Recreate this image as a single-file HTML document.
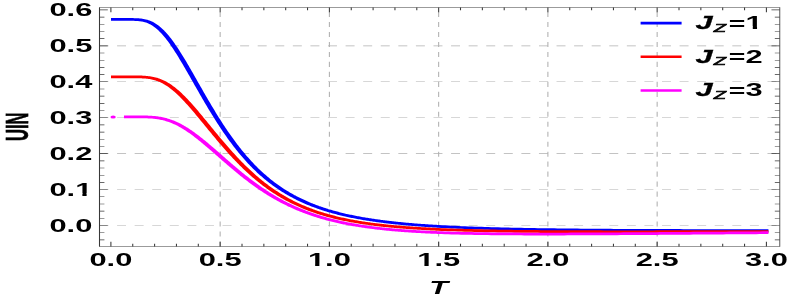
<!DOCTYPE html>
<html><head><meta charset="utf-8"><title>plot</title>
<style>html,body{margin:0;padding:0;background:#fff;}body{width:793px;height:300px;overflow:hidden;position:relative;font-family:"Liberation Sans",sans-serif;}</style></head>
<body>
<svg width="793" height="300" viewBox="0 0 793 300" style="position:absolute;left:0;top:0;will-change:transform">
<rect x="0" y="0" width="793" height="300" fill="#fff"/>
<g transform="scale(1.76222,1)" stroke="#b0b0b0" stroke-width="0.6" fill="none" stroke-dasharray="5.1 4.875">
<line x1="56.46" x2="442.34" y1="225.5" y2="225.5"/>
<line x1="56.46" x2="442.34" y1="189.57" y2="189.57"/>
<line x1="56.46" x2="442.34" y1="153.64" y2="153.64"/>
<line x1="56.46" x2="442.34" y1="117.71" y2="117.71"/>
<line x1="56.46" x2="442.34" y1="81.78" y2="81.78"/>
<line x1="56.46" x2="442.34" y1="45.85" y2="45.85"/>
<line x1="124.93" x2="124.93" y1="246.5" y2="7.5"/>
<line x1="186.92" x2="186.92" y1="246.5" y2="7.5"/>
<line x1="248.92" x2="248.92" y1="246.5" y2="7.5"/>
<line x1="310.91" x2="310.91" y1="246.5" y2="7.5"/>
<line x1="372.91" x2="372.91" y1="246.5" y2="7.5"/>
</g>
<g transform="scale(1.76222,1)" fill="none" stroke-width="2.75" stroke-linecap="square" stroke-linejoin="round">
<path d="M64.35 19.45 L64.97 19.45 L65.58 19.45 L66.20 19.45 L66.82 19.45 L67.43 19.45 L68.05 19.45 L68.67 19.45 L69.28 19.45 L69.90 19.45 L70.52 19.45 L71.13 19.45 L71.75 19.45 L72.37 19.45 L72.99 19.45 L73.60 19.45 L74.22 19.46 L74.84 19.46 L75.45 19.48 L76.07 19.50 L76.69 19.53 L77.30 19.57 L77.92 19.62 L78.54 19.69 L79.15 19.79 L79.77 19.90 L80.39 20.05 L81.00 20.22 L81.62 20.43 L82.24 20.68 L82.85 20.97 L83.47 21.30 L84.09 21.68 L84.70 22.11 L85.32 22.59 L85.94 23.12 L86.56 23.71 L87.17 24.35 L87.79 25.05 L88.41 25.80 L89.02 26.61 L89.64 27.48 L90.26 28.41 L90.87 29.39 L91.49 30.43 L92.11 31.52 L92.72 32.67 L93.34 33.86 L93.96 35.11 L94.57 36.41 L95.19 37.75 L95.81 39.15 L96.42 40.58 L97.04 42.06 L97.66 43.57 L98.27 45.13 L98.89 46.72 L99.51 48.34 L100.13 50.00 L100.74 51.69 L101.36 53.40 L101.98 55.14 L102.59 56.90 L103.21 58.69 L103.83 60.49 L104.44 62.31 L105.06 64.15 L105.68 66.00 L106.29 67.87 L106.91 69.75 L107.53 71.63 L108.14 73.53 L108.76 75.43 L109.38 77.33 L109.99 79.24 L110.61 81.15 L111.23 83.06 L111.84 84.97 L112.46 86.88 L113.08 88.78 L113.69 90.68 L114.31 92.58 L114.93 94.47 L115.55 96.35 L116.16 98.23 L116.78 100.09 L117.40 101.95 L118.01 103.80 L118.63 105.63 L119.25 107.45 L119.86 109.26 L120.48 111.06 L121.10 112.84 L121.71 114.61 L122.33 116.36 L122.95 118.10 L123.56 119.82 L124.18 121.53 L124.80 123.22 L125.41 124.89 L126.03 126.55 L126.65 128.18 L127.26 129.80 L127.88 131.40 L128.50 132.99 L129.12 134.55 L129.73 136.10 L130.35 137.63 L130.97 139.13 L131.58 140.62 L132.20 142.09 L132.82 143.54 L133.43 144.97 L134.05 146.39 L134.67 147.78 L135.28 149.15 L135.90 150.51 L136.52 151.84 L137.13 153.16 L137.75 154.45 L138.37 155.73 L138.98 156.99 L139.60 158.23 L140.22 159.45 L140.83 160.65 L141.45 161.84 L142.07 163.00 L142.69 164.15 L143.30 165.28 L143.92 166.39 L144.54 167.48 L145.15 168.56 L145.77 169.62 L146.39 170.66 L147.00 171.68 L147.62 172.69 L148.24 173.68 L148.85 174.65 L149.47 175.61 L150.09 176.55 L150.70 177.47 L151.32 178.38 L151.94 179.28 L152.55 180.16 L153.17 181.02 L153.79 181.87 L154.40 182.70 L155.02 183.52 L155.64 184.33 L156.25 185.12 L156.87 185.90 L157.49 186.66 L158.11 187.41 L158.72 188.15 L159.34 188.87 L159.96 189.58 L160.57 190.28 L161.19 190.97 L161.81 191.64 L162.42 192.30 L163.04 192.95 L163.66 193.59 L164.27 194.22 L164.89 194.84 L165.51 195.44 L166.12 196.04 L166.74 196.62 L167.36 197.19 L167.97 197.75 L168.59 198.31 L169.21 198.85 L169.82 199.38 L170.44 199.91 L171.06 200.42 L171.68 200.93 L172.29 201.42 L172.91 201.91 L173.53 202.39 L174.14 202.86 L174.76 203.32 L175.38 203.77 L175.99 204.22 L176.61 204.65 L177.23 205.08 L177.84 205.50 L178.46 205.92 L179.08 206.32 L179.69 206.72 L180.31 207.12 L180.93 207.50 L181.54 207.88 L182.16 208.25 L182.78 208.62 L183.39 208.97 L184.01 209.33 L184.63 209.67 L185.25 210.01 L185.86 210.35 L186.48 210.67 L187.10 211.00 L187.71 211.31 L188.33 211.62 L188.95 211.93 L189.56 212.23 L190.18 212.52 L190.80 212.81 L191.41 213.10 L192.03 213.38 L192.65 213.65 L193.26 213.92 L193.88 214.19 L194.50 214.45 L195.11 214.70 L195.73 214.96 L196.35 215.20 L196.96 215.45 L197.58 215.69 L198.20 215.92 L198.82 216.15 L199.43 216.38 L200.05 216.60 L200.67 216.82 L201.28 217.04 L201.90 217.25 L202.52 217.46 L203.13 217.66 L203.75 217.86 L204.37 218.06 L204.98 218.26 L205.60 218.45 L206.22 218.63 L206.83 218.82 L207.45 219.00 L208.07 219.18 L208.68 219.36 L209.30 219.53 L209.92 219.70 L210.53 219.87 L211.15 220.03 L211.77 220.19 L212.38 220.35 L213.00 220.51 L213.62 220.66 L214.24 220.81 L214.85 220.96 L215.47 221.11 L216.09 221.25 L216.70 221.39 L217.32 221.53 L217.94 221.67 L218.55 221.81 L219.17 221.94 L219.79 222.07 L220.40 222.20 L221.02 222.32 L221.64 222.45 L222.25 222.57 L222.87 222.69 L223.49 222.81 L224.10 222.93 L224.72 223.04 L225.34 223.16 L225.95 223.27 L226.57 223.38 L227.19 223.48 L227.81 223.59 L228.42 223.69 L229.04 223.80 L229.66 223.90 L230.27 224.00 L230.89 224.10 L231.51 224.19 L232.12 224.29 L232.74 224.38 L233.36 224.47 L233.97 224.56 L234.59 224.65 L235.21 224.74 L235.82 224.83 L236.44 224.91 L237.06 224.99 L237.67 225.08 L238.29 225.16 L238.91 225.24 L239.52 225.32 L240.14 225.40 L240.76 225.47 L241.38 225.55 L241.99 225.62 L242.61 225.69 L243.23 225.77 L243.84 225.84 L244.46 225.91 L245.08 225.98 L245.69 226.04 L246.31 226.11 L246.93 226.18 L247.54 226.24 L248.16 226.30 L248.78 226.37 L250.65 226.55 L252.53 226.73 L254.41 226.90 L256.29 227.06 L258.17 227.21 L260.04 227.36 L261.92 227.50 L263.80 227.64 L265.68 227.77 L267.55 227.89 L269.43 228.01 L271.31 228.12 L273.19 228.23 L275.07 228.34 L276.94 228.44 L278.82 228.53 L280.70 228.62 L282.58 228.71 L284.45 228.79 L286.33 228.88 L288.21 228.95 L290.09 229.03 L291.97 229.10 L293.84 229.16 L295.72 229.23 L297.60 229.29 L299.48 229.35 L301.36 229.41 L303.23 229.46 L305.11 229.51 L306.99 229.56 L308.87 229.61 L310.74 229.66 L312.62 229.70 L314.50 229.74 L316.38 229.79 L318.26 229.82 L320.13 229.86 L322.01 229.90 L323.89 229.93 L325.77 229.96 L327.64 229.99 L329.52 230.02 L331.40 230.05 L333.28 230.08 L335.16 230.11 L337.03 230.13 L338.91 230.16 L340.79 230.18 L342.67 230.20 L344.54 230.22 L346.42 230.24 L348.30 230.26 L350.18 230.28 L352.06 230.29 L353.93 230.31 L355.81 230.33 L357.69 230.34 L359.57 230.36 L361.44 230.37 L363.32 230.38 L365.20 230.39 L367.08 230.41 L368.96 230.42 L370.83 230.43 L372.71 230.44 L374.59 230.45 L376.47 230.46 L378.34 230.46 L380.22 230.47 L382.10 230.48 L383.98 230.49 L385.86 230.49 L387.73 230.50 L389.61 230.50 L391.49 230.51 L393.37 230.51 L395.24 230.52 L397.12 230.52 L399.00 230.53 L400.88 230.53 L402.76 230.53 L404.63 230.54 L406.51 230.54 L408.39 230.54 L410.27 230.54 L412.14 230.54 L414.02 230.55 L415.90 230.55 L417.78 230.55 L419.66 230.55 L421.53 230.55 L423.41 230.55 L425.29 230.55 L427.17 230.55 L429.05 230.55 L430.92 230.55 L432.80 230.55 L434.68 230.55" stroke="#0000ff"/>
<path d="M64.35 76.87 L64.97 76.87 L65.58 76.87 L66.20 76.87 L66.82 76.87 L67.43 76.87 L68.05 76.87 L68.67 76.87 L69.28 76.87 L69.90 76.87 L70.52 76.87 L71.13 76.87 L71.75 76.87 L72.37 76.87 L72.99 76.87 L73.60 76.87 L74.22 76.87 L74.84 76.87 L75.45 76.87 L76.07 76.87 L76.69 76.88 L77.30 76.89 L77.92 76.90 L78.54 76.91 L79.15 76.93 L79.77 76.96 L80.39 76.99 L81.00 77.04 L81.62 77.10 L82.24 77.17 L82.85 77.25 L83.47 77.36 L84.09 77.48 L84.70 77.62 L85.32 77.79 L85.94 77.97 L86.56 78.19 L87.17 78.43 L87.79 78.70 L88.41 79.00 L89.02 79.33 L89.64 79.70 L90.26 80.09 L90.87 80.52 L91.49 80.99 L92.11 81.49 L92.72 82.02 L93.34 82.59 L93.96 83.19 L94.57 83.83 L95.19 84.51 L95.81 85.22 L96.42 85.96 L97.04 86.74 L97.66 87.55 L98.27 88.39 L98.89 89.26 L99.51 90.16 L100.13 91.10 L100.74 92.06 L101.36 93.05 L101.98 94.06 L102.59 95.10 L103.21 96.17 L103.83 97.26 L104.44 98.37 L105.06 99.50 L105.68 100.65 L106.29 101.82 L106.91 103.01 L107.53 104.21 L108.14 105.43 L108.76 106.66 L109.38 107.91 L109.99 109.17 L110.61 110.44 L111.23 111.72 L111.84 113.00 L112.46 114.30 L113.08 115.60 L113.69 116.91 L114.31 118.23 L114.93 119.54 L115.55 120.87 L116.16 122.19 L116.78 123.52 L117.40 124.84 L118.01 126.17 L118.63 127.50 L119.25 128.82 L119.86 130.15 L120.48 131.47 L121.10 132.79 L121.71 134.10 L122.33 135.41 L122.95 136.72 L123.56 138.02 L124.18 139.31 L124.80 140.60 L125.41 141.89 L126.03 143.16 L126.65 144.43 L127.26 145.69 L127.88 146.94 L128.50 148.18 L129.12 149.41 L129.73 150.64 L130.35 151.85 L130.97 153.06 L131.58 154.25 L132.20 155.44 L132.82 156.61 L133.43 157.77 L134.05 158.92 L134.67 160.06 L135.28 161.19 L135.90 162.31 L136.52 163.41 L137.13 164.51 L137.75 165.59 L138.37 166.66 L138.98 167.71 L139.60 168.76 L140.22 169.79 L140.83 170.81 L141.45 171.82 L142.07 172.81 L142.69 173.80 L143.30 174.77 L143.92 175.72 L144.54 176.67 L145.15 177.60 L145.77 178.52 L146.39 179.43 L147.00 180.32 L147.62 181.20 L148.24 182.07 L148.85 182.93 L149.47 183.77 L150.09 184.60 L150.70 185.42 L151.32 186.23 L151.94 187.03 L152.55 187.81 L153.17 188.58 L153.79 189.34 L154.40 190.09 L155.02 190.83 L155.64 191.55 L156.25 192.26 L156.87 192.97 L157.49 193.66 L158.11 194.34 L158.72 195.00 L159.34 195.66 L159.96 196.31 L160.57 196.94 L161.19 197.57 L161.81 198.19 L162.42 198.79 L163.04 199.38 L163.66 199.97 L164.27 200.54 L164.89 201.11 L165.51 201.66 L166.12 202.21 L166.74 202.75 L167.36 203.27 L167.97 203.79 L168.59 204.30 L169.21 204.80 L169.82 205.29 L170.44 205.77 L171.06 206.25 L171.68 206.71 L172.29 207.17 L172.91 207.62 L173.53 208.06 L174.14 208.50 L174.76 208.92 L175.38 209.34 L175.99 209.75 L176.61 210.15 L177.23 210.55 L177.84 210.94 L178.46 211.32 L179.08 211.70 L179.69 212.06 L180.31 212.43 L180.93 212.78 L181.54 213.13 L182.16 213.47 L182.78 213.81 L183.39 214.14 L184.01 214.46 L184.63 214.78 L185.25 215.09 L185.86 215.40 L186.48 215.70 L187.10 215.99 L187.71 216.28 L188.33 216.57 L188.95 216.85 L189.56 217.12 L190.18 217.39 L190.80 217.65 L191.41 217.91 L192.03 218.17 L192.65 218.42 L193.26 218.66 L193.88 218.91 L194.50 219.14 L195.11 219.37 L195.73 219.60 L196.35 219.83 L196.96 220.05 L197.58 220.26 L198.20 220.47 L198.82 220.68 L199.43 220.88 L200.05 221.08 L200.67 221.28 L201.28 221.47 L201.90 221.66 L202.52 221.85 L203.13 222.03 L203.75 222.21 L204.37 222.39 L204.98 222.56 L205.60 222.73 L206.22 222.90 L206.83 223.06 L207.45 223.22 L208.07 223.38 L208.68 223.53 L209.30 223.68 L209.92 223.83 L210.53 223.98 L211.15 224.12 L211.77 224.26 L212.38 224.40 L213.00 224.54 L213.62 224.67 L214.24 224.80 L214.85 224.93 L215.47 225.06 L216.09 225.18 L216.70 225.30 L217.32 225.42 L217.94 225.54 L218.55 225.66 L219.17 225.77 L219.79 225.88 L220.40 225.99 L221.02 226.10 L221.64 226.20 L222.25 226.31 L222.87 226.41 L223.49 226.51 L224.10 226.60 L224.72 226.70 L225.34 226.80 L225.95 226.89 L226.57 226.98 L227.19 227.07 L227.81 227.16 L228.42 227.24 L229.04 227.33 L229.66 227.41 L230.27 227.49 L230.89 227.57 L231.51 227.65 L232.12 227.73 L232.74 227.81 L233.36 227.88 L233.97 227.95 L234.59 228.03 L235.21 228.10 L235.82 228.17 L236.44 228.23 L237.06 228.30 L237.67 228.37 L238.29 228.43 L238.91 228.50 L239.52 228.56 L240.14 228.62 L240.76 228.68 L241.38 228.74 L241.99 228.80 L242.61 228.85 L243.23 228.91 L243.84 228.97 L244.46 229.02 L245.08 229.07 L245.69 229.13 L246.31 229.18 L246.93 229.23 L247.54 229.28 L248.16 229.33 L248.78 229.37 L250.65 229.51 L252.53 229.65 L254.41 229.77 L256.29 229.89 L258.17 230.00 L260.04 230.11 L261.92 230.21 L263.80 230.31 L265.68 230.40 L267.55 230.48 L269.43 230.57 L271.31 230.64 L273.19 230.72 L275.07 230.78 L276.94 230.85 L278.82 230.91 L280.70 230.97 L282.58 231.02 L284.45 231.08 L286.33 231.12 L288.21 231.17 L290.09 231.21 L291.97 231.26 L293.84 231.29 L295.72 231.33 L297.60 231.36 L299.48 231.40 L301.36 231.43 L303.23 231.46 L305.11 231.48 L306.99 231.51 L308.87 231.53 L310.74 231.55 L312.62 231.57 L314.50 231.59 L316.38 231.61 L318.26 231.63 L320.13 231.64 L322.01 231.65 L323.89 231.67 L325.77 231.68 L327.64 231.69 L329.52 231.70 L331.40 231.71 L333.28 231.72 L335.16 231.72 L337.03 231.73 L338.91 231.74 L340.79 231.74 L342.67 231.75 L344.54 231.75 L346.42 231.75 L348.30 231.75 L350.18 231.76 L352.06 231.76 L353.93 231.76 L355.81 231.76 L357.69 231.76 L359.57 231.76 L361.44 231.76 L363.32 231.76 L365.20 231.75 L367.08 231.75 L368.96 231.75 L370.83 231.75 L372.71 231.74 L374.59 231.74 L376.47 231.74 L378.34 231.73 L380.22 231.73 L382.10 231.72 L383.98 231.72 L385.86 231.71 L387.73 231.71 L389.61 231.70 L391.49 231.70 L393.37 231.69 L395.24 231.68 L397.12 231.68 L399.00 231.67 L400.88 231.66 L402.76 231.66 L404.63 231.65 L406.51 231.64 L408.39 231.64 L410.27 231.63 L412.14 231.62 L414.02 231.61 L415.90 231.61 L417.78 231.60 L419.66 231.59 L421.53 231.58 L423.41 231.58 L425.29 231.57 L427.17 231.56 L429.05 231.55 L430.92 231.54 L432.80 231.54 L434.68 231.53" stroke="#ff0000"/>
<path d="M64.18 116.97 l0.01 0" stroke="#ff00ff" stroke-linecap="round" stroke-width="3.0"/>
<path d="M71.72 116.81 L72.32 116.81 L72.91 116.81 L73.50 116.81 L74.09 116.81 L74.68 116.81 L75.28 116.81 L75.87 116.81 L76.46 116.81 L77.05 116.81 L77.65 116.82 L78.24 116.82 L78.83 116.82 L79.42 116.83 L80.01 116.84 L80.61 116.85 L81.20 116.86 L81.79 116.88 L82.38 116.90 L82.97 116.93 L83.57 116.97 L84.16 117.01 L84.75 117.06 L85.34 117.12 L85.94 117.18 L86.53 117.26 L87.12 117.35 L87.71 117.45 L88.30 117.57 L88.90 117.70 L89.49 117.84 L90.08 118.00 L90.67 118.18 L91.27 118.37 L91.86 118.58 L92.45 118.81 L93.04 119.05 L93.63 119.32 L94.23 119.60 L94.82 119.91 L95.41 120.23 L96.00 120.57 L96.59 120.94 L97.19 121.32 L97.78 121.72 L98.37 122.15 L98.96 122.59 L99.56 123.06 L100.15 123.54 L100.74 124.05 L101.33 124.57 L101.92 125.11 L102.52 125.67 L103.11 126.25 L103.70 126.85 L104.29 127.47 L104.88 128.10 L105.48 128.75 L106.07 129.42 L106.66 130.10 L107.25 130.80 L107.85 131.51 L108.44 132.24 L109.03 132.98 L109.62 133.73 L110.21 134.50 L110.81 135.28 L111.40 136.07 L111.99 136.87 L112.58 137.69 L113.17 138.51 L113.77 139.34 L114.36 140.18 L114.95 141.03 L115.54 141.89 L116.14 142.75 L116.73 143.63 L117.32 144.50 L117.91 145.39 L118.50 146.27 L119.10 147.17 L119.69 148.06 L120.28 148.96 L120.87 149.87 L121.46 150.78 L122.06 151.68 L122.65 152.59 L123.24 153.51 L123.83 154.42 L124.43 155.33 L125.02 156.25 L125.61 157.16 L126.20 158.07 L126.79 158.98 L127.39 159.89 L127.98 160.80 L128.57 161.71 L129.16 162.61 L129.75 163.51 L130.35 164.41 L130.94 165.30 L131.53 166.19 L132.12 167.08 L132.72 167.96 L133.31 168.84 L133.90 169.71 L134.49 170.58 L135.08 171.45 L135.68 172.30 L136.27 173.16 L136.86 174.00 L137.45 174.84 L138.04 175.68 L138.64 176.51 L139.23 177.33 L139.82 178.14 L140.41 178.95 L141.01 179.76 L141.60 180.55 L142.19 181.34 L142.78 182.12 L143.37 182.89 L143.97 183.66 L144.56 184.42 L145.15 185.17 L145.74 185.91 L146.33 186.65 L146.93 187.37 L147.52 188.10 L148.11 188.81 L148.70 189.51 L149.30 190.21 L149.89 190.90 L150.48 191.58 L151.07 192.25 L151.66 192.92 L152.26 193.57 L152.85 194.22 L153.44 194.87 L154.03 195.50 L154.63 196.12 L155.22 196.74 L155.81 197.35 L156.40 197.95 L156.99 198.55 L157.59 199.13 L158.18 199.71 L158.77 200.28 L159.36 200.85 L159.95 201.40 L160.55 201.95 L161.14 202.49 L161.73 203.02 L162.32 203.55 L162.92 204.06 L163.51 204.58 L164.10 205.08 L164.69 205.57 L165.28 206.06 L165.88 206.54 L166.47 207.02 L167.06 207.49 L167.65 207.95 L168.24 208.40 L168.84 208.85 L169.43 209.29 L170.02 209.72 L170.61 210.15 L171.21 210.57 L171.80 210.98 L172.39 211.39 L172.98 211.79 L173.57 212.19 L174.17 212.58 L174.76 212.96 L175.35 213.34 L175.94 213.71 L176.53 214.07 L177.13 214.43 L177.72 214.79 L178.31 215.13 L178.90 215.48 L179.50 215.81 L180.09 216.14 L180.68 216.47 L181.27 216.79 L181.86 217.11 L182.46 217.42 L183.05 217.72 L183.64 218.02 L184.23 218.32 L184.82 218.61 L185.42 218.89 L186.01 219.17 L186.60 219.45 L187.19 219.72 L187.79 219.99 L188.38 220.25 L188.97 220.51 L189.56 220.76 L190.15 221.01 L190.75 221.26 L191.34 221.50 L191.93 221.74 L192.52 221.97 L193.11 222.20 L193.71 222.43 L194.30 222.65 L194.89 222.87 L195.48 223.08 L196.08 223.29 L196.67 223.50 L197.26 223.70 L197.85 223.90 L198.44 224.10 L199.04 224.29 L199.63 224.48 L200.22 224.66 L200.81 224.85 L201.40 225.03 L202.00 225.20 L202.59 225.38 L203.18 225.55 L203.77 225.72 L204.37 225.88 L204.96 226.04 L205.55 226.20 L206.14 226.36 L206.73 226.51 L207.33 226.66 L207.92 226.81 L208.51 226.96 L209.10 227.10 L209.69 227.24 L210.29 227.38 L210.88 227.51 L211.47 227.65 L212.06 227.78 L212.66 227.91 L213.25 228.03 L213.84 228.16 L214.43 228.28 L215.02 228.40 L215.62 228.52 L216.21 228.63 L216.80 228.74 L217.39 228.85 L217.99 228.96 L218.58 229.07 L219.17 229.18 L219.76 229.28 L220.35 229.38 L220.95 229.48 L221.54 229.58 L222.13 229.67 L222.72 229.77 L223.31 229.86 L223.91 229.95 L224.50 230.04 L225.09 230.13 L225.68 230.22 L226.28 230.30 L226.87 230.38 L227.46 230.46 L228.05 230.54 L228.64 230.62 L229.24 230.70 L229.83 230.77 L230.42 230.85 L231.01 230.92 L231.60 230.99 L232.20 231.06 L232.79 231.13 L233.38 231.20 L233.97 231.27 L234.57 231.33 L235.16 231.39 L235.75 231.46 L236.34 231.52 L236.93 231.58 L237.53 231.64 L238.12 231.69 L238.71 231.75 L239.30 231.81 L239.89 231.86 L240.49 231.91 L241.08 231.97 L241.67 232.02 L242.26 232.07 L242.86 232.12 L243.45 232.17 L244.04 232.21 L244.63 232.26 L245.22 232.31 L245.82 232.35 L246.41 232.40 L247.00 232.44 L247.59 232.48 L248.18 232.52 L248.78 232.56 L250.65 232.68 L252.53 232.80 L254.41 232.91 L256.29 233.01 L258.17 233.10 L260.04 233.19 L261.92 233.27 L263.80 233.35 L265.68 233.42 L267.55 233.48 L269.43 233.54 L271.31 233.60 L273.19 233.65 L275.07 233.70 L276.94 233.74 L278.82 233.78 L280.70 233.82 L282.58 233.85 L284.45 233.88 L286.33 233.91 L288.21 233.93 L290.09 233.95 L291.97 233.97 L293.84 233.99 L295.72 234.00 L297.60 234.01 L299.48 234.02 L301.36 234.03 L303.23 234.03 L305.11 234.04 L306.99 234.04 L308.87 234.04 L310.74 234.04 L312.62 234.04 L314.50 234.03 L316.38 234.03 L318.26 234.02 L320.13 234.01 L322.01 234.00 L323.89 233.99 L325.77 233.98 L327.64 233.97 L329.52 233.96 L331.40 233.95 L333.28 233.93 L335.16 233.92 L337.03 233.90 L338.91 233.89 L340.79 233.87 L342.67 233.85 L344.54 233.83 L346.42 233.81 L348.30 233.79 L350.18 233.77 L352.06 233.75 L353.93 233.73 L355.81 233.71 L357.69 233.69 L359.57 233.67 L361.44 233.65 L363.32 233.63 L365.20 233.60 L367.08 233.58 L368.96 233.56 L370.83 233.53 L372.71 233.51 L374.59 233.49 L376.47 233.46 L378.34 233.44 L380.22 233.42 L382.10 233.39 L383.98 233.37 L385.86 233.34 L387.73 233.32 L389.61 233.29 L391.49 233.27 L393.37 233.24 L395.24 233.22 L397.12 233.19 L399.00 233.17 L400.88 233.14 L402.76 233.12 L404.63 233.10 L406.51 233.07 L408.39 233.05 L410.27 233.02 L412.14 233.00 L414.02 232.97 L415.90 232.95 L417.78 232.92 L419.66 232.90 L421.53 232.87 L423.41 232.85 L425.29 232.82 L427.17 232.80 L429.05 232.77 L430.92 232.75 L432.80 232.72 L434.68 232.70" stroke="#ff00ff"/>
</g>
<g transform="scale(1.76222,1)" stroke="#383838" stroke-width="0.6" fill="none">
<path d="M442.481 7.5 H56.463 V246.5 H442.481"/>
<path d="M442.481 7.2 V246.8" stroke="#606060"/>
<path d="M62.93 246.5 v-4.7 M62.93 7.5 v4.7"/>
<path d="M75.33 246.5 v-2.8 M75.33 7.5 v2.8"/>
<path d="M87.73 246.5 v-2.8 M87.73 7.5 v2.8"/>
<path d="M100.13 246.5 v-2.8 M100.13 7.5 v2.8"/>
<path d="M112.53 246.5 v-2.8 M112.53 7.5 v2.8"/>
<path d="M124.93 246.5 v-4.7 M124.93 7.5 v4.7"/>
<path d="M137.33 246.5 v-2.8 M137.33 7.5 v2.8"/>
<path d="M149.73 246.5 v-2.8 M149.73 7.5 v2.8"/>
<path d="M162.12 246.5 v-2.8 M162.12 7.5 v2.8"/>
<path d="M174.52 246.5 v-2.8 M174.52 7.5 v2.8"/>
<path d="M186.92 246.5 v-4.7 M186.92 7.5 v4.7"/>
<path d="M199.32 246.5 v-2.8 M199.32 7.5 v2.8"/>
<path d="M211.72 246.5 v-2.8 M211.72 7.5 v2.8"/>
<path d="M224.12 246.5 v-2.8 M224.12 7.5 v2.8"/>
<path d="M236.52 246.5 v-2.8 M236.52 7.5 v2.8"/>
<path d="M248.92 246.5 v-4.7 M248.92 7.5 v4.7"/>
<path d="M261.32 246.5 v-2.8 M261.32 7.5 v2.8"/>
<path d="M273.72 246.5 v-2.8 M273.72 7.5 v2.8"/>
<path d="M286.12 246.5 v-2.8 M286.12 7.5 v2.8"/>
<path d="M298.52 246.5 v-2.8 M298.52 7.5 v2.8"/>
<path d="M310.91 246.5 v-4.7 M310.91 7.5 v4.7"/>
<path d="M323.31 246.5 v-2.8 M323.31 7.5 v2.8"/>
<path d="M335.71 246.5 v-2.8 M335.71 7.5 v2.8"/>
<path d="M348.11 246.5 v-2.8 M348.11 7.5 v2.8"/>
<path d="M360.51 246.5 v-2.8 M360.51 7.5 v2.8"/>
<path d="M372.91 246.5 v-4.7 M372.91 7.5 v4.7"/>
<path d="M385.31 246.5 v-2.8 M385.31 7.5 v2.8"/>
<path d="M397.71 246.5 v-2.8 M397.71 7.5 v2.8"/>
<path d="M410.11 246.5 v-2.8 M410.11 7.5 v2.8"/>
<path d="M422.51 246.5 v-2.8 M422.51 7.5 v2.8"/>
<path d="M434.91 246.5 v-4.7 M434.91 7.5 v4.7"/>
<path d="M56.46 239.87 h2.8 M442.48 239.87 h-2.8"/>
<path d="M56.46 232.69 h2.8 M442.48 232.69 h-2.8"/>
<path d="M56.46 225.5 h4.7 M442.48 225.5 h-4.7"/>
<path d="M56.46 218.31 h2.8 M442.48 218.31 h-2.8"/>
<path d="M56.46 211.13 h2.8 M442.48 211.13 h-2.8"/>
<path d="M56.46 203.94 h2.8 M442.48 203.94 h-2.8"/>
<path d="M56.46 196.76 h2.8 M442.48 196.76 h-2.8"/>
<path d="M56.46 189.57 h4.7 M442.48 189.57 h-4.7"/>
<path d="M56.46 182.38 h2.8 M442.48 182.38 h-2.8"/>
<path d="M56.46 175.2 h2.8 M442.48 175.2 h-2.8"/>
<path d="M56.46 168.01 h2.8 M442.48 168.01 h-2.8"/>
<path d="M56.46 160.83 h2.8 M442.48 160.83 h-2.8"/>
<path d="M56.46 153.64 h4.7 M442.48 153.64 h-4.7"/>
<path d="M56.46 146.45 h2.8 M442.48 146.45 h-2.8"/>
<path d="M56.46 139.27 h2.8 M442.48 139.27 h-2.8"/>
<path d="M56.46 132.08 h2.8 M442.48 132.08 h-2.8"/>
<path d="M56.46 124.9 h2.8 M442.48 124.9 h-2.8"/>
<path d="M56.46 117.71 h4.7 M442.48 117.71 h-4.7"/>
<path d="M56.46 110.52 h2.8 M442.48 110.52 h-2.8"/>
<path d="M56.46 103.34 h2.8 M442.48 103.34 h-2.8"/>
<path d="M56.46 96.15 h2.8 M442.48 96.15 h-2.8"/>
<path d="M56.46 88.97 h2.8 M442.48 88.97 h-2.8"/>
<path d="M56.46 81.78 h4.7 M442.48 81.78 h-4.7"/>
<path d="M56.46 74.59 h2.8 M442.48 74.59 h-2.8"/>
<path d="M56.46 67.41 h2.8 M442.48 67.41 h-2.8"/>
<path d="M56.46 60.22 h2.8 M442.48 60.22 h-2.8"/>
<path d="M56.46 53.04 h2.8 M442.48 53.04 h-2.8"/>
<path d="M56.46 45.85 h4.7 M442.48 45.85 h-4.7"/>
<path d="M56.46 38.66 h2.8 M442.48 38.66 h-2.8"/>
<path d="M56.46 31.48 h2.8 M442.48 31.48 h-2.8"/>
<path d="M56.46 24.29 h2.8 M442.48 24.29 h-2.8"/>
<path d="M56.46 17.11 h2.8 M442.48 17.11 h-2.8"/>
<path d="M56.46 9.92 h4.7 M442.48 9.92 h-4.7"/>
</g>
<g transform="scale(0.440556,0.25)" font-family="Liberation Sans, sans-serif" font-weight="bold" font-size="70.0" fill="#000">
<text x="209.6" y="926.8" text-anchor="end">0.0</text>
<text x="209.6" y="782.8" text-anchor="end">0.1</text>
<text x="209.6" y="638.8" text-anchor="end">0.2</text>
<text x="209.6" y="494.8" text-anchor="end">0.3</text>
<text x="209.6" y="350.8" text-anchor="end">0.4</text>
<text x="209.6" y="206.8" text-anchor="end">0.5</text>
<text x="209.6" y="62.8" text-anchor="end">0.6</text>
<text x="251.7" y="1066.0" text-anchor="middle">0.0</text>
<text x="499.7" y="1066.0" text-anchor="middle">0.5</text>
<text x="747.7" y="1066.0" text-anchor="middle">1.0</text>
<text x="995.7" y="1066.0" text-anchor="middle">1.5</text>
<text x="1243.7" y="1066.0" text-anchor="middle">2.0</text>
<text x="1491.6" y="1066.0" text-anchor="middle">2.5</text>
<text x="1739.6" y="1066.0" text-anchor="middle">3.0</text>
<text x="996.0" y="1177.6" text-anchor="middle" font-style="italic">T</text>
<text transform="translate(64.0,507.0) rotate(-90) scale(0.948,1.03)" text-anchor="middle" stroke="#000" stroke-width="1.6">UIN</text>
<text x="1578.9" y="115.6" font-style="italic" stroke="#000" stroke-width="1.0">J</text>
<text x="1620.2" y="126.4" font-style="italic" font-weight="normal" font-size="45.6" stroke="#000" stroke-width="2.4" stroke-linejoin="miter">Z</text>
<text x="1652.7" y="118.4" transform="translate(1673.1,0) scale(0.92,1) translate(-1673.1,0)">=</text>
<text x="1692.4" y="115.6">1</text>
<text x="1578.9" y="250.4" font-style="italic" stroke="#000" stroke-width="1.0">J</text>
<text x="1620.2" y="261.2" font-style="italic" font-weight="normal" font-size="45.6" stroke="#000" stroke-width="2.4" stroke-linejoin="miter">Z</text>
<text x="1652.7" y="253.2" transform="translate(1673.1,0) scale(0.92,1) translate(-1673.1,0)">=</text>
<text x="1692.4" y="250.4">2</text>
<text x="1578.9" y="385.2" font-style="italic" stroke="#000" stroke-width="1.0">J</text>
<text x="1620.2" y="396.0" font-style="italic" font-weight="normal" font-size="45.6" stroke="#000" stroke-width="2.4" stroke-linejoin="miter">Z</text>
<text x="1652.7" y="388.0" transform="translate(1673.1,0) scale(0.92,1) translate(-1673.1,0)">=</text>
<text x="1692.4" y="385.2">3</text>
</g>
<g transform="scale(1.76222,1)" fill="#fff">
<rect x="42.84" y="193.16" width="3.91" height="3.09"/>
<rect x="49.15" y="193.16" width="4.07" height="3.09"/>
<rect x="174.93" y="263.96" width="3.91" height="3.09"/>
<rect x="181.24" y="263.96" width="4.07" height="3.09"/>
<rect x="236.93" y="263.96" width="3.91" height="3.09"/>
<rect x="243.24" y="263.96" width="4.07" height="3.09"/>
<rect x="423.27" y="26.36" width="3.91" height="3.09"/>
<rect x="429.59" y="26.36" width="4.07" height="3.09"/>
</g>
<g transform="scale(1.76222,1)" stroke-width="2.6" fill="none">
<line x1="363.52" x2="386.78" y1="23.10" y2="23.10" stroke="#0000ff"/>
<line x1="363.52" x2="386.78" y1="56.80" y2="56.80" stroke="#ff0000"/>
<line x1="363.52" x2="386.78" y1="90.50" y2="90.50" stroke="#ff00ff"/>
</g>
</svg>
</body></html>
